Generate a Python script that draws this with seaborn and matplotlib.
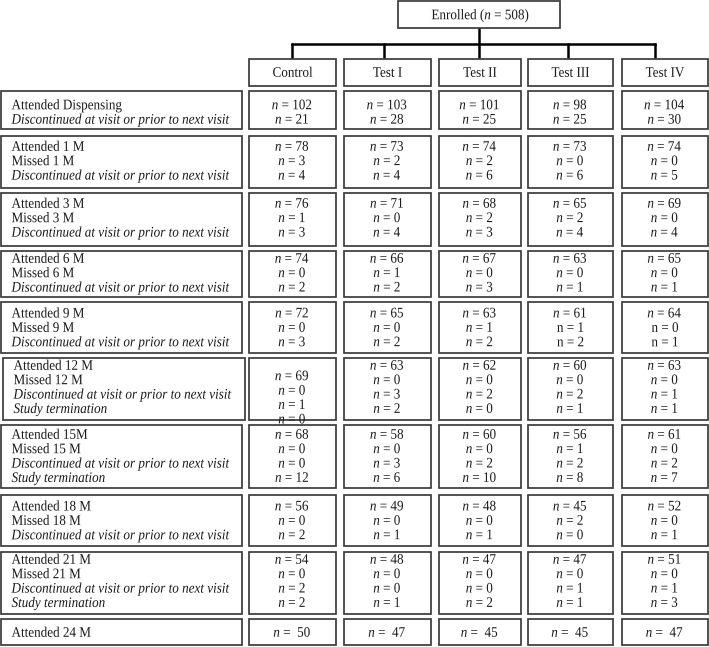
import numpy as np
import matplotlib
matplotlib.use("Agg")
import matplotlib.pyplot as plt
from matplotlib.patches import Rectangle
from matplotlib.patheffects import AbstractPathEffect
from matplotlib.transforms import Affine2D
import seaborn as sns

sns.set_theme(style="white")
plt.rcParams['font.family'] = ['Liberation Serif', 'DejaVu Serif']
plt.rcParams['mathtext.fontset'] = 'custom'
plt.rcParams['mathtext.it'] = 'Liberation Serif:italic'
plt.rcParams['mathtext.rm'] = 'Liberation Serif'

# --- data -------------------------------------------------------------
enrolled = 508
groups = ["Control", "Test I", "Test II", "Test III", "Test IV"]
visits = ["Dispensing", "1 M", "3 M", "6 M", "9 M", "12 M", "15M", "18 M", "21 M", "24 M"]
missed_names = [None, "1 M", "3 M", "6 M", "9 M", "12 M", "15 M", "18 M", "21 M", None]

attended = [
    [102, 103, 101, 98, 104],
    [78, 73, 74, 73, 74],
    [76, 71, 68, 65, 69],
    [74, 66, 67, 63, 65],
    [72, 65, 63, 61, 64],
    [69, 63, 62, 60, 63],
    [68, 58, 60, 56, 61],
    [56, 49, 48, 45, 52],
    [54, 48, 47, 47, 51],
    [50, 47, 45, 45, 47],
]
missed = [
    None,
    [3, 2, 2, 0, 0],
    [1, 0, 2, 2, 0],
    [0, 1, 0, 0, 0],
    [0, 0, 1, 1, 0],
    [0, 0, 0, 0, 0],
    [0, 0, 0, 1, 0],
    [0, 0, 0, 2, 0],
    [0, 0, 0, 0, 0],
    None,
]
discontinued = [
    [21, 28, 25, 25, 30],
    [4, 4, 6, 6, 5],
    [3, 4, 3, 4, 4],
    [2, 2, 3, 1, 1],
    [3, 2, 2, 2, 1],
    [1, 3, 2, 2, 1],
    [0, 3, 2, 2, 2],
    [2, 1, 1, 0, 1],
    [2, 0, 0, 1, 1],
    None,
]
terminated = [
    None, None, None, None, None,
    [0, 2, 0, 1, 1],
    [12, 6, 10, 8, 7],
    None,
    [2, 1, 2, 1, 3],
    None,
]
# cells printed with an upright n in the source (row, group, line)
upright_n = {(4, 3, 1), (4, 3, 2), (4, 4, 1), (4, 4, 2)}

# --- layout (pixels) --------------------------------------------------
W, H = 709, 647
row_top = [91, 136, 193, 251, 302, 358, 425, 495, 552, 619]
row_bot = [129, 188, 246, 297, 353, 420, 488, 546, 614, 645]
first_line = [104.5, 146, 203, 258, 312.7, 365, 434, 505.7, 559, 632]
col_left = [249, 344, 439, 528, 622]
col_right = [336, 431, 521, 613, 708]
branch_x = [292, 384, 479, 568, 655]
line_gap = 14.4
fs = 10.5
half_cap = 4.8
edge = '#3c3c3c'
txt = '#1a1a1a'


class Squeeze(AbstractPathEffect):
    """Narrow the glyphs horizontally (the source font is condensed)."""

    def __init__(self, sx=0.9, anchor='center'):
        super().__init__()
        self.sx = sx
        self.anchor = anchor

    def draw_path(self, renderer, gc, tpath, affine, rgbFace=None):
        ext = tpath.get_extents(affine)
        px = ext.x0 if self.anchor == 'left' else (ext.x0 + ext.x1) / 2
        py = (ext.y0 + ext.y1) / 2
        t = affine + Affine2D().translate(-px, -py).scale(self.sx, 1).translate(px, py)
        renderer.draw_path(gc, tpath, t, rgbFace)


sq_c = [Squeeze(0.9, 'center')]
sq_l = [Squeeze(0.9, 'left')]

fig = plt.figure(figsize=(W / 100, H / 100), dpi=100)
ax = fig.add_axes([0, 0, 1, 1])
ax.set_xlim(0, W)
ax.set_ylim(H, 0)
ax.axis('off')


def box(x0, y0, x1, y1):
    ax.add_patch(Rectangle((x0, y0), x1 - x0, y1 - y0, facecolor='white',
                           edgecolor=edge, lw=1.25, zorder=2))


def label(x, y, s, ha='center', style='normal'):
    ax.text(x, y + half_cap, s, ha=ha, va='baseline', fontsize=fs, style=style,
            color=txt, zorder=3, path_effects=sq_l if ha == 'left' else sq_c)


# enrolled box and tree
box(398, 1, 560, 28)
label(481, 14.5, f"Enrolled ($n$ = {enrolled})")
ax.plot([479, 479], [28, 44], color='black', lw=1.8, zorder=1)
ax.plot([branch_x[0], branch_x[-1]], [44, 44], color='black', lw=1.8,
        solid_capstyle='projecting', zorder=1)
for bx in branch_x:
    ax.plot([bx, bx], [44, 59], color='black', lw=1.8, zorder=1)

for g, name in enumerate(groups):
    box(col_left[g], 59, col_right[g], 86)
    label((col_left[g] + col_right[g]) / 2, 72, name)

# visit rows
for r, visit in enumerate(visits):
    top, bot = row_top[r], row_bot[r]
    labels = [(f"Attended {visit}", 'normal')]
    series = [attended[r]]
    if missed[r] is not None:
        labels.append((f"Missed {missed_names[r]}", 'normal'))
        series.append(missed[r])
    if discontinued[r] is not None:
        labels.append(("Discontinued at visit or prior to next visit", 'italic'))
        series.append(discontinued[r])
    if terminated[r] is not None:
        labels.append(("Study termination", 'italic'))
        series.append(terminated[r])

    lx0 = 3 if r == 5 else 1
    lx1 = 245 if r == 5 else 242
    box(lx0, top, lx1, bot)
    ys = first_line[r] + np.arange(len(labels)) * line_gap
    for (lab, style), y in zip(labels, ys):
        label(lx0 + 10.5, y, lab, ha='left', style=style)

    for g in range(len(groups)):
        box(col_left[g], top, col_right[g], bot)
        cx = (col_left[g] + col_right[g]) / 2
        shift = 10.5 if (r == 5 and g == 0) else 0
        for k, (vals, y) in enumerate(zip(series, ys)):
            sep = " =  " if r == len(visits) - 1 else " = "
            nsym = "n" if (r, g, k) in upright_n else "$n$"
            label(cx, y + shift, f"{nsym}{sep}{vals[g]}")

fig.savefig("out.png", dpi=100, facecolor='white')
